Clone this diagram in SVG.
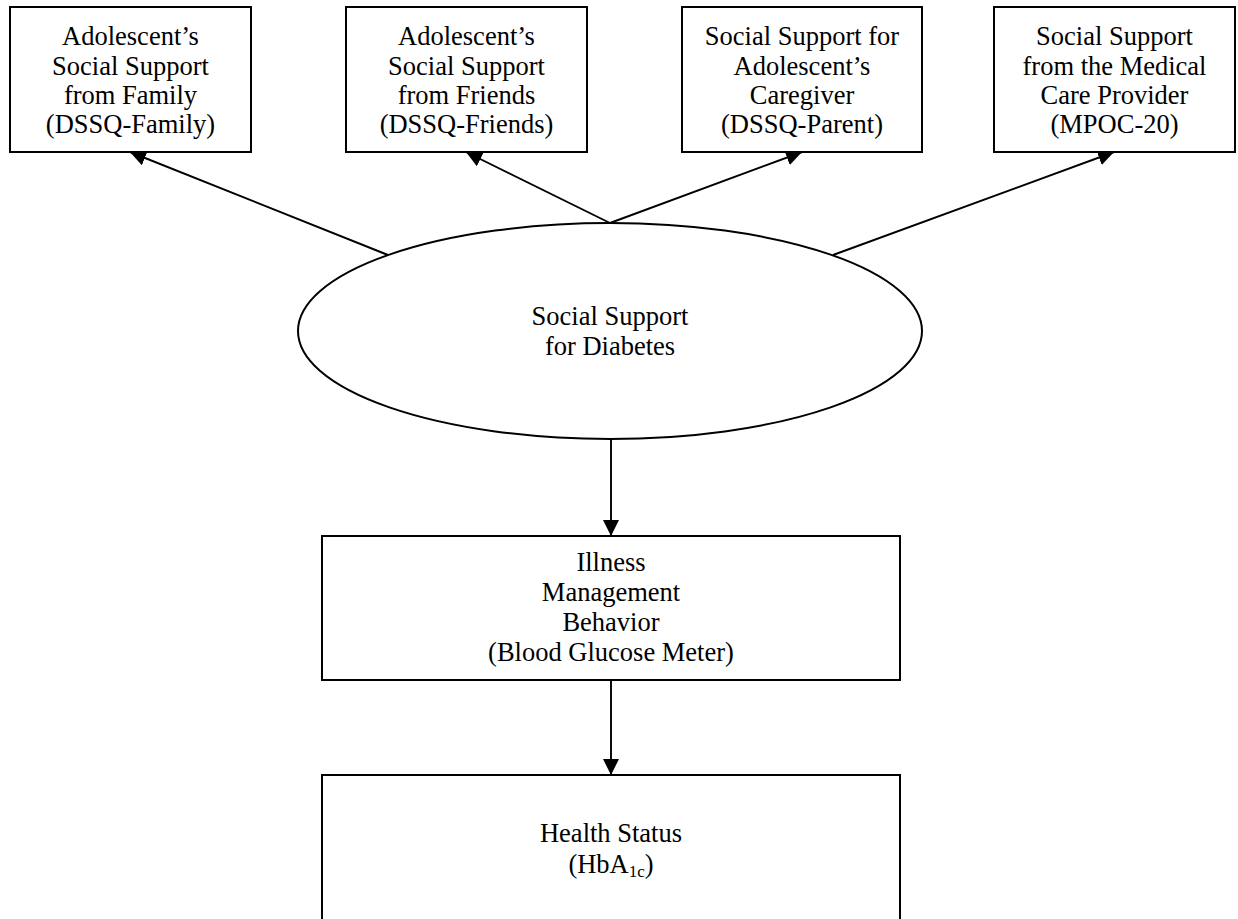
<svg xmlns="http://www.w3.org/2000/svg" width="1238" height="919" viewBox="0 0 1238 919">
  <style>
    .box { fill: #ffffff; stroke: #000000; stroke-width: 2; }
    .lbl { font-family: "Liberation Serif", "Times New Roman", serif; font-size: 26.5px; fill: #000000; text-anchor: middle; }
    .sub { font-size: 17px; }
    .edge { stroke: #000000; stroke-width: 1.9; fill: none; marker-end: url(#arrow); }
  </style>
  <defs>
    <marker id="arrow" markerUnits="userSpaceOnUse" markerWidth="16" markerHeight="16" refX="16" refY="8" orient="auto">
      <path d="M0,0 L16,8 L0,16 Z" fill="#000000"/>
    </marker>
  </defs>
  <rect width="1238" height="919" fill="#ffffff"/>

  <!-- connectors -->
  <g id="connectors">
    <line class="edge" x1="388" y1="255" x2="130" y2="152"/>
    <line class="edge" x1="610" y1="223" x2="466" y2="152"/>
    <line class="edge" x1="610" y1="223" x2="802" y2="152"/>
    <line class="edge" x1="833" y1="255" x2="1114" y2="152"/>
    <line class="edge" x1="611" y1="439" x2="611" y2="536"/>
    <line class="edge" x1="611" y1="680" x2="611" y2="775"/>
  </g>

  <!-- indicator boxes -->
  <g id="dssq-family">
    <rect class="box" x="10" y="7" width="241" height="145"/>
    <text class="lbl" x="130.5" y="45">Adolescent’s</text>
    <text class="lbl" x="130.5" y="75">Social Support</text>
    <text class="lbl" x="130.5" y="104">from Family</text>
    <text class="lbl" x="130.5" y="133">(DSSQ-Family)</text>
  </g>
  <g id="dssq-friends">
    <rect class="box" x="346" y="7" width="241" height="145"/>
    <text class="lbl" x="466.5" y="45">Adolescent’s</text>
    <text class="lbl" x="466.5" y="75">Social Support</text>
    <text class="lbl" x="466.5" y="104">from Friends</text>
    <text class="lbl" x="466.5" y="133">(DSSQ-Friends)</text>
  </g>
  <g id="dssq-parent">
    <rect class="box" x="682" y="7" width="240" height="145"/>
    <text class="lbl" x="802" y="45">Social Support for</text>
    <text class="lbl" x="802" y="75">Adolescent’s</text>
    <text class="lbl" x="802" y="104">Caregiver</text>
    <text class="lbl" x="802" y="133">(DSSQ-Parent)</text>
  </g>
  <g id="mpoc-20">
    <rect class="box" x="994" y="7" width="241" height="145"/>
    <text class="lbl" x="1114.5" y="45">Social Support</text>
    <text class="lbl" x="1114.5" y="75">from the Medical</text>
    <text class="lbl" x="1114.5" y="104">Care Provider</text>
    <text class="lbl" x="1114.5" y="133">(MPOC-20)</text>
  </g>

  <!-- latent construct -->
  <g id="social-support">
    <ellipse class="box" cx="610" cy="331" rx="312" ry="108"/>
    <text class="lbl" x="610" y="325">Social Support</text>
    <text class="lbl" x="610" y="355">for Diabetes</text>
  </g>

  <!-- outcomes -->
  <g id="illness-management">
    <rect class="box" x="322" y="536" width="578" height="144"/>
    <text class="lbl" x="611" y="571">Illness</text>
    <text class="lbl" x="611" y="601">Management</text>
    <text class="lbl" x="611" y="631">Behavior</text>
    <text class="lbl" x="611" y="661">(Blood Glucose Meter)</text>
  </g>
  <g id="health-status">
    <rect class="box" x="322" y="775" width="578" height="160"/>
    <text class="lbl" x="611" y="842">Health Status</text>
    <text class="lbl" x="611" y="873">(HbA<tspan class="sub" dy="4">1c</tspan><tspan dy="-4">)</tspan></text>
  </g>
</svg>
